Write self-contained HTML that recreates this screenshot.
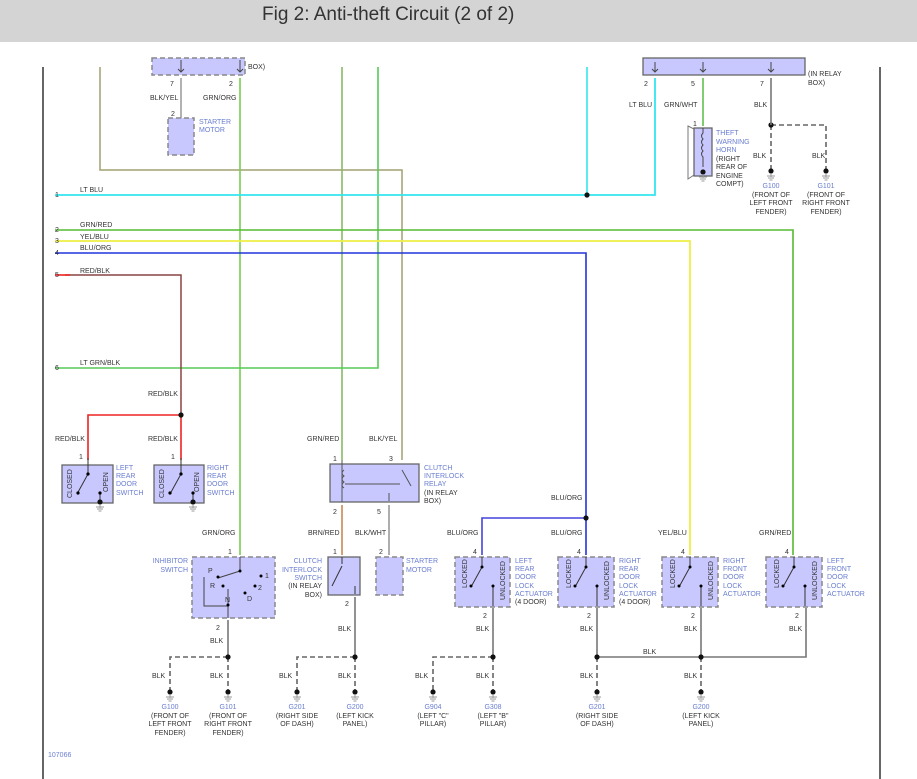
<!DOCTYPE html>
<html><head><meta charset="utf-8"><style>
body{margin:0;width:917px;height:779px;overflow:hidden;background:#fff;font-family:"Liberation Sans",sans-serif}
#hdr{position:absolute;left:0;top:0;width:917px;height:42px;background:#d4d4d4}
#hdr span{position:absolute;left:262px;top:4px;font-size:19px;color:#333}
svg{position:absolute;left:0;top:0}
text{font-family:"Liberation Sans",sans-serif;font-size:7px;fill:#333}
.c{fill:#6a7ed0}
.box{fill:#c8c8ff;stroke:#666;stroke-width:1.3}
.dbox{fill:#c8c8ff;stroke:#888;stroke-width:1.5;stroke-dasharray:5,3}
</style></head><body>
<div id="hdr"><span>Fig 2: Anti-theft Circuit (2 of 2)</span></div>
<svg width="917" height="779" viewBox="0 0 917 779">
<defs>
<g id="gnd"><circle cx="0" cy="0" r="2.6" fill="#111"/><line x1="0" y1="2" x2="0" y2="6" stroke="#999"/><line x1="-4" y1="5" x2="4" y2="5" stroke="#999"/><line x1="-3" y1="7" x2="3" y2="7" stroke="#999"/><line x1="-1.5" y1="9" x2="1.5" y2="9" stroke="#999"/></g>
</defs>
<line x1="43" y1="67" x2="43" y2="779" stroke="#333" stroke-width="1.5"/>
<line x1="880" y1="67" x2="880" y2="779" stroke="#333" stroke-width="1.5"/>

<!-- top left box -->
<rect x="152" y="58" width="93" height="17" class="dbox"/>
<text x="248" y="69">BOX)</text>
<path d="M181 60v12M178 69l3 3 3-3M240 60v12M237 69l3 3 3-3" stroke="#444" fill="none"/>
<text x="170" y="86">7</text><text x="229" y="86">2</text>
<line x1="181" y1="78" x2="181" y2="118" stroke="#999" stroke-width="1.5"/>
<text x="150" y="100">BLK/YEL</text><text x="203" y="100">GRN/ORG</text>
<text x="171" y="116">2</text>
<rect x="168" y="118" width="26" height="37" class="dbox"/>
<text x="199" y="124" class="c">STARTER</text><text x="199" y="132" class="c">MOTOR</text>

<polyline points="100,67 100,170 402,170 402,460" fill="none" stroke="#a0a070" stroke-width="1.5"/>
<line x1="240" y1="78" x2="240" y2="555" stroke="#77cc55" stroke-width="1.6"/>
<line x1="342" y1="67" x2="342" y2="460" stroke="#88bb66" stroke-width="1.6"/>
<polyline points="378,67 378,368 55,368" fill="none" stroke="#55cc55" stroke-width="1.6"/>
<polyline points="655,78 655,195 55,195" fill="none" stroke="#33e6f0" stroke-width="1.8"/>
<line x1="587" y1="67" x2="587" y2="195" stroke="#33e6f0" stroke-width="1.6"/>
<circle cx="587" cy="195" r="2.6" fill="#111"/>
<polyline points="55,230 793,230 793,555" fill="none" stroke="#55bb33" stroke-width="1.6"/>
<polyline points="55,241 690,241 690,555" fill="none" stroke="#eeee44" stroke-width="1.8"/>
<polyline points="55,253 586,253 586,555" fill="none" stroke="#2233dd" stroke-width="1.6"/>
<polyline points="586,518 482,518 482,555" fill="none" stroke="#4444dd" stroke-width="1.6"/>
<polyline points="65,275 181,275 181,415" fill="none" stroke="#884444" stroke-width="1.5"/>
<line x1="55" y1="275" x2="70" y2="275" stroke="#ee2222" stroke-width="1.6"/>
<circle cx="586" cy="518" r="2.6" fill="#111"/>
<text x="55" y="197">1</text><text x="80" y="192">LT BLU</text>
<text x="55" y="232">2</text><text x="80" y="227">GRN/RED</text>
<text x="55" y="243">3</text><text x="80" y="239">YEL/BLU</text>
<text x="55" y="255">4</text><text x="80" y="250">BLU/ORG</text>
<text x="55" y="277">5</text><text x="80" y="273">RED/BLK</text>
<text x="55" y="370">6</text><text x="80" y="365">LT GRN/BLK</text>

<polyline points="88,460 88,415 181,415 181,460" fill="none" stroke="#ee2222" stroke-width="1.6"/>
<circle cx="181" cy="415" r="2.6" fill="#111"/>
<text x="148" y="396">RED/BLK</text>
<text x="55" y="441">RED/BLK</text><text x="148" y="441">RED/BLK</text>

<g>
<rect x="62" y="465" width="51" height="38" class="box"/>
<text x="79" y="459">1</text>
<text transform="translate(72,498) rotate(-90)">CLOSED</text>
<text transform="translate(108,492) rotate(-90)">OPEN</text>
<path d="M88 458v16M77 494l11-20M100 494v6" stroke="#333" fill="none"/>
<circle cx="88" cy="474" r="1.6"/><circle cx="78" cy="493" r="1.6"/><circle cx="100" cy="493" r="1.6"/>
<use href="#gnd" x="100" y="502"/>
<text x="116" y="470" class="c">LEFT</text><text x="116" y="478" class="c">REAR</text><text x="116" y="486" class="c">DOOR</text><text x="116" y="495" class="c">SWITCH</text>
</g>
<g>
<rect x="154" y="465" width="50" height="38" class="box"/>
<text x="171" y="459">1</text>
<text transform="translate(164,498) rotate(-90)">CLOSED</text>
<text transform="translate(199,492) rotate(-90)">OPEN</text>
<path d="M181 458v16M170 494l11-20M193 494v6" stroke="#333" fill="none"/>
<circle cx="181" cy="474" r="1.6"/><circle cx="170" cy="493" r="1.6"/><circle cx="193" cy="493" r="1.6"/>
<use href="#gnd" x="193" y="502"/>
<text x="207" y="470" class="c">RIGHT</text><text x="207" y="478" class="c">REAR</text><text x="207" y="486" class="c">DOOR</text><text x="207" y="495" class="c">SWITCH</text>
</g>

<rect x="330" y="464" width="89" height="38" class="box"/>
<text x="307" y="441">GRN/RED</text><text x="369" y="441">BLK/YEL</text>
<text x="333" y="461">1</text><text x="389" y="461">3</text>
<path d="M342 460v42M344 470q-4 3 0 6q-4 3 0 6q-4 3 0 6M345 484h55M402 470l9 16M389 493v8" stroke="#555" fill="none"/>
<text x="424" y="470" class="c">CLUTCH</text><text x="424" y="478" class="c">INTERLOCK</text><text x="424" y="486" class="c">RELAY</text><text x="424" y="495">(IN RELAY</text><text x="424" y="503">BOX)</text>
<text x="333" y="514">2</text><text x="377" y="514">5</text>
<line x1="342" y1="505" x2="342" y2="555" stroke="#cc8855" stroke-width="1.6"/>
<line x1="389" y1="505" x2="389" y2="555" stroke="#999" stroke-width="1.6"/>
<text x="308" y="535">BRN/RED</text><text x="355" y="535">BLK/WHT</text>
<text x="333" y="554">1</text><text x="379" y="554">2</text>
<rect x="328" y="557" width="32" height="38" class="box"/>
<path d="M342 557v7M332 586l10-20M355 586v8" stroke="#333" fill="none"/>
<text x="322" y="563" class="c" text-anchor="end">CLUTCH</text><text x="322" y="572" class="c" text-anchor="end">INTERLOCK</text><text x="322" y="580" class="c" text-anchor="end">SWITCH</text><text x="322" y="588" text-anchor="end">(IN RELAY</text><text x="322" y="597" text-anchor="end">BOX)</text>
<rect x="376" y="557" width="27" height="38" class="dbox"/>
<text x="406" y="563" class="c">STARTER</text><text x="406" y="572" class="c">MOTOR</text>
<text x="345" y="606">2</text>
<line x1="355" y1="597" x2="355" y2="657" stroke="#777" stroke-width="1.6"/>
<text x="338" y="631">BLK</text>

<text x="202" y="535">GRN/ORG</text>
<text x="228" y="554">1</text>
<rect x="192" y="557" width="83" height="61" class="dbox"/>
<text x="188" y="563" class="c" text-anchor="end">INHIBITOR</text><text x="188" y="572" class="c" text-anchor="end">SWITCH</text>
<path d="M240 557v14M240 571l-22 7M204 577v29h24v-17M228 606v12" stroke="#444" fill="none"/>
<circle cx="240" cy="571" r="1.5"/><circle cx="218" cy="577" r="1.5"/><circle cx="261" cy="576" r="1.5"/><circle cx="223" cy="586" r="1.5"/><circle cx="255" cy="586" r="1.5"/><circle cx="245" cy="593" r="1.5"/><circle cx="228" cy="605" r="1.5"/>
<text x="208" y="573">P</text><text x="210" y="588">R</text><text x="265" y="578">1</text><text x="258" y="590">2</text><text x="247" y="601">D</text><text x="225" y="602">N</text>
<text x="216" y="630">2</text>
<line x1="228" y1="620" x2="228" y2="657" stroke="#777" stroke-width="1.6"/>
<text x="210" y="643">BLK</text>

<rect x="455" y="557" width="55" height="50" class="dbox"/>
<rect x="558" y="557" width="56" height="50" class="dbox"/>
<rect x="662" y="557" width="56" height="50" class="dbox"/>
<rect x="766" y="557" width="56" height="50" class="dbox"/>
<g stroke="#333" fill="none">
<path d="M482 557v10M471 587l11-20M493 586v20"/>
<path d="M586 557v10M575 587l11-20M597 586v20"/>
<path d="M690 557v10M679 587l11-20M701 586v20"/>
<path d="M794 557v10M783 587l11-20M805 586v20"/>
</g>
<g>
<circle cx="482" cy="567" r="1.5"/><circle cx="471" cy="586" r="1.5"/><circle cx="493" cy="586" r="1.5"/>
<circle cx="586" cy="567" r="1.5"/><circle cx="575" cy="586" r="1.5"/><circle cx="597" cy="586" r="1.5"/>
<circle cx="690" cy="567" r="1.5"/><circle cx="679" cy="586" r="1.5"/><circle cx="701" cy="586" r="1.5"/>
<circle cx="794" cy="567" r="1.5"/><circle cx="783" cy="586" r="1.5"/><circle cx="805" cy="586" r="1.5"/>
</g>
<text transform="translate(467,588) rotate(-90)">LOCKED</text><text transform="translate(505,600) rotate(-90)">UNLOCKED</text>
<text transform="translate(571,588) rotate(-90)">LOCKED</text><text transform="translate(609,600) rotate(-90)">UNLOCKED</text>
<text transform="translate(675,588) rotate(-90)">LOCKED</text><text transform="translate(713,600) rotate(-90)">UNLOCKED</text>
<text transform="translate(779,588) rotate(-90)">LOCKED</text><text transform="translate(817,600) rotate(-90)">UNLOCKED</text>
<text x="473" y="554">4</text><text x="577" y="554">4</text><text x="681" y="554">4</text><text x="785" y="554">4</text>
<text x="447" y="535">BLU/ORG</text><text x="551" y="535">BLU/ORG</text><text x="658" y="535">YEL/BLU</text><text x="759" y="535">GRN/RED</text>
<text x="551" y="500">BLU/ORG</text>
<text x="515" y="563" class="c">LEFT</text><text x="515" y="571" class="c">REAR</text><text x="515" y="579" class="c">DOOR</text><text x="515" y="588" class="c">LOCK</text><text x="515" y="596" class="c">ACTUATOR</text><text x="515" y="604">(4 DOOR)</text>
<text x="619" y="563" class="c">RIGHT</text><text x="619" y="571" class="c">REAR</text><text x="619" y="579" class="c">DOOR</text><text x="619" y="588" class="c">LOCK</text><text x="619" y="596" class="c">ACTUATOR</text><text x="619" y="604">(4 DOOR)</text>
<text x="723" y="563" class="c">RIGHT</text><text x="723" y="571" class="c">FRONT</text><text x="723" y="579" class="c">DOOR</text><text x="723" y="588" class="c">LOCK</text><text x="723" y="596" class="c">ACTUATOR</text>
<text x="827" y="563" class="c">LEFT</text><text x="827" y="571" class="c">FRONT</text><text x="827" y="579" class="c">DOOR</text><text x="827" y="588" class="c">LOCK</text><text x="827" y="596" class="c">ACTUATOR</text>
<text x="483" y="618">2</text><text x="587" y="618">2</text><text x="691" y="618">2</text><text x="795" y="618">2</text>
<g stroke="#777" stroke-width="1.6" fill="none">
<line x1="493" y1="608" x2="493" y2="657"/>
<polyline points="597,608 597,657 806,657 806,608"/>
<line x1="701" y1="608" x2="701" y2="657"/>
</g>
<text x="476" y="631">BLK</text><text x="580" y="631">BLK</text><text x="684" y="631">BLK</text><text x="789" y="631">BLK</text>
<text x="643" y="654">BLK</text>

<g stroke="#666" stroke-width="1.6" stroke-dasharray="5,3" fill="none">
<polyline points="228,657 170,657 170,692"/><line x1="228" y1="657" x2="228" y2="692"/>
<polyline points="355,657 297,657 297,692"/><line x1="355" y1="657" x2="355" y2="692"/>
<polyline points="493,657 433,657 433,692"/><line x1="493" y1="657" x2="493" y2="692"/>
<line x1="597" y1="657" x2="597" y2="692"/><line x1="701" y1="657" x2="701" y2="692"/>
<polyline points="771,125 826,125 826,171"/><line x1="771" y1="125" x2="771" y2="171"/>
</g>
<g fill="#111"><circle cx="228" cy="657" r="2.6"/><circle cx="355" cy="657" r="2.6"/><circle cx="493" cy="657" r="2.6"/><circle cx="597" cy="657" r="2.6"/><circle cx="701" cy="657" r="2.6"/><circle cx="771" cy="125" r="2.6"/></g>
<text x="152" y="678">BLK</text><text x="210" y="678">BLK</text><text x="279" y="678">BLK</text><text x="338" y="678">BLK</text><text x="415" y="678">BLK</text><text x="476" y="678">BLK</text><text x="580" y="678">BLK</text><text x="684" y="678">BLK</text>
<use href="#gnd" x="170" y="692"/><use href="#gnd" x="228" y="692"/><use href="#gnd" x="297" y="692"/><use href="#gnd" x="355" y="692"/><use href="#gnd" x="433" y="692"/><use href="#gnd" x="493" y="692"/><use href="#gnd" x="597" y="692"/><use href="#gnd" x="701" y="692"/><use href="#gnd" x="771" y="171"/><use href="#gnd" x="826" y="171"/>
<g text-anchor="middle">
<text x="170" y="709" class="c">G100</text><text x="170" y="718">(FRONT OF</text><text x="170" y="726">LEFT FRONT</text><text x="170" y="735">FENDER)</text>
<text x="228" y="709" class="c">G101</text><text x="228" y="718">(FRONT OF</text><text x="228" y="726">RIGHT FRONT</text><text x="228" y="735">FENDER)</text>
<text x="297" y="709" class="c">G201</text><text x="297" y="718">(RIGHT SIDE</text><text x="297" y="726">OF DASH)</text>
<text x="355" y="709" class="c">G200</text><text x="355" y="718">(LEFT KICK</text><text x="355" y="726">PANEL)</text>
<text x="433" y="709" class="c">G904</text><text x="433" y="718">(LEFT "C"</text><text x="433" y="726">PILLAR)</text>
<text x="493" y="709" class="c">G308</text><text x="493" y="718">(LEFT "B"</text><text x="493" y="726">PILLAR)</text>
<text x="597" y="709" class="c">G201</text><text x="597" y="718">(RIGHT SIDE</text><text x="597" y="726">OF DASH)</text>
<text x="701" y="709" class="c">G200</text><text x="701" y="718">(LEFT KICK</text><text x="701" y="726">PANEL)</text>
<text x="771" y="188" class="c">G100</text><text x="771" y="197">(FRONT OF</text><text x="771" y="205">LEFT FRONT</text><text x="771" y="214">FENDER)</text>
<text x="826" y="188" class="c">G101</text><text x="826" y="197">(FRONT OF</text><text x="826" y="205">RIGHT FRONT</text><text x="826" y="214">FENDER)</text>
</g>

<rect x="643" y="58" width="162" height="17" class="box"/>
<path d="M655 62v10M652 69l3 3 3-3M703 62v10M700 69l3 3 3-3M771 62v10M768 69l3 3 3-3" stroke="#444" fill="none"/>
<text x="808" y="76">(IN RELAY</text><text x="808" y="85">BOX)</text>
<text x="644" y="86">2</text><text x="691" y="86">5</text><text x="760" y="86">7</text>
<line x1="703" y1="78" x2="703" y2="126" stroke="#55bb44" stroke-width="1.5"/>
<line x1="771" y1="78" x2="771" y2="125" stroke="#777" stroke-width="1.6"/>
<text x="629" y="107">LT BLU</text><text x="664" y="107">GRN/WHT</text><text x="754" y="107">BLK</text>
<text x="753" y="158">BLK</text><text x="812" y="158">BLK</text>
<text x="693" y="126">1</text>
<path d="M688 126l6 3v46l-6 4z" fill="#fff" stroke="#777"/>
<rect x="694" y="128" width="18" height="48" class="box"/>
<path d="M703 128v5q-3 3 0 6q-3 3 0 6q-3 3 0 6q-3 3 0 6v10" stroke="#444" fill="none"/>
<use href="#gnd" x="703" y="172"/>
<text x="716" y="135" class="c">THEFT</text><text x="716" y="144" class="c">WARNING</text><text x="716" y="152" class="c">HORN</text><text x="716" y="161">(RIGHT</text><text x="716" y="169">REAR OF</text><text x="716" y="178">ENGINE</text><text x="716" y="186">COMPT)</text>

<text x="48" y="757" class="c">107066</text>
</svg>
</body></html>
